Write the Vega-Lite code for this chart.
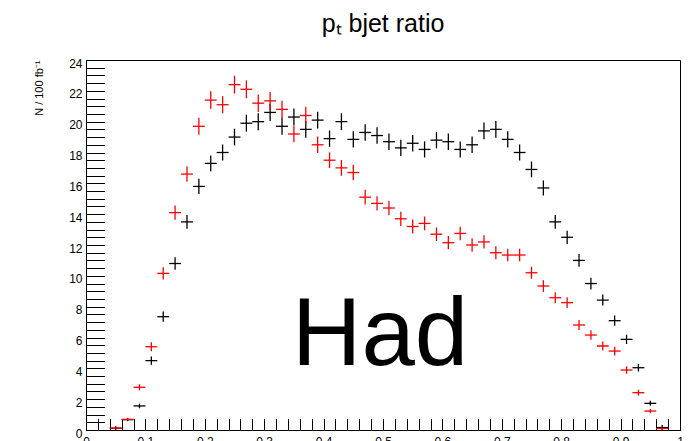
{
  "$schema": "https://vega.github.io/schema/vega-lite/v6.json",
  "width": 594,
  "height": 370,
  "autosize": "none",
  "padding": {"left": 86, "top": 60, "right": 15, "bottom": 11},
  "background": "white",
  "config": {
    "view": {"stroke": "#000", "strokeWidth": 1},
    "font": "Liberation Sans"
  },
  "title": {
    "text": "pₜ bjet ratio",
    "fontSize": 25,
    "fontWeight": "normal",
    "font": "Liberation Sans",
    "color": "#000",
    "anchor": "middle",
    "offset": 20
  },
  "datasets": {
    "hist": [
      {"x": 0.05, "n": 0.12, "err": 0.12, "s": "k"},
      {"x": 0.07, "n": 0.67, "err": 0.10, "s": "k"},
      {"x": 0.09, "n": 1.56, "err": 0.15, "s": "k"},
      {"x": 0.11, "n": 4.5, "err": 0.26, "s": "k"},
      {"x": 0.13, "n": 7.35, "err": 0.33, "s": "k"},
      {"x": 0.15, "n": 10.8, "err": 0.40, "s": "k"},
      {"x": 0.17, "n": 13.5, "err": 0.45, "s": "k"},
      {"x": 0.19, "n": 15.8, "err": 0.49, "s": "k"},
      {"x": 0.21, "n": 17.3, "err": 0.51, "s": "k"},
      {"x": 0.23, "n": 18.0, "err": 0.52, "s": "k"},
      {"x": 0.25, "n": 19.0, "err": 0.54, "s": "k"},
      {"x": 0.27, "n": 19.9, "err": 0.55, "s": "k"},
      {"x": 0.29, "n": 20.0, "err": 0.55, "s": "k"},
      {"x": 0.31, "n": 20.6, "err": 0.56, "s": "k"},
      {"x": 0.33, "n": 19.7, "err": 0.55, "s": "k"},
      {"x": 0.35, "n": 20.3, "err": 0.55, "s": "k"},
      {"x": 0.37, "n": 19.5, "err": 0.54, "s": "k"},
      {"x": 0.39, "n": 20.1, "err": 0.55, "s": "k"},
      {"x": 0.41, "n": 18.9, "err": 0.53, "s": "k"},
      {"x": 0.43, "n": 20.0, "err": 0.55, "s": "k"},
      {"x": 0.45, "n": 18.85, "err": 0.53, "s": "k"},
      {"x": 0.47, "n": 19.3, "err": 0.54, "s": "k"},
      {"x": 0.49, "n": 19.1, "err": 0.54, "s": "k"},
      {"x": 0.51, "n": 18.7, "err": 0.53, "s": "k"},
      {"x": 0.53, "n": 18.3, "err": 0.53, "s": "k"},
      {"x": 0.55, "n": 18.6, "err": 0.53, "s": "k"},
      {"x": 0.57, "n": 18.2, "err": 0.52, "s": "k"},
      {"x": 0.59, "n": 18.8, "err": 0.53, "s": "k"},
      {"x": 0.61, "n": 18.7, "err": 0.53, "s": "k"},
      {"x": 0.63, "n": 18.2, "err": 0.52, "s": "k"},
      {"x": 0.65, "n": 18.5, "err": 0.53, "s": "k"},
      {"x": 0.67, "n": 19.4, "err": 0.54, "s": "k"},
      {"x": 0.69, "n": 19.5, "err": 0.54, "s": "k"},
      {"x": 0.71, "n": 18.85, "err": 0.53, "s": "k"},
      {"x": 0.73, "n": 18.0, "err": 0.52, "s": "k"},
      {"x": 0.75, "n": 16.9, "err": 0.51, "s": "k"},
      {"x": 0.77, "n": 15.7, "err": 0.49, "s": "k"},
      {"x": 0.79, "n": 13.5, "err": 0.45, "s": "k"},
      {"x": 0.81, "n": 12.5, "err": 0.43, "s": "k"},
      {"x": 0.83, "n": 11.0, "err": 0.41, "s": "k"},
      {"x": 0.85, "n": 9.5, "err": 0.38, "s": "k"},
      {"x": 0.87, "n": 8.43, "err": 0.36, "s": "k"},
      {"x": 0.89, "n": 7.09, "err": 0.33, "s": "k"},
      {"x": 0.91, "n": 5.88, "err": 0.30, "s": "k"},
      {"x": 0.93, "n": 4.04, "err": 0.25, "s": "k"},
      {"x": 0.95, "n": 1.73, "err": 0.16, "s": "k"},
      {"x": 0.97, "n": 0.16, "err": 0.16, "s": "k"},
      {"x": 0.05, "n": 0.12, "err": 0.12, "s": "r"},
      {"x": 0.07, "n": 0.69, "err": 0.10, "s": "r"},
      {"x": 0.09, "n": 2.77, "err": 0.20, "s": "r"},
      {"x": 0.11, "n": 5.4, "err": 0.29, "s": "r"},
      {"x": 0.13, "n": 10.16, "err": 0.39, "s": "r"},
      {"x": 0.15, "n": 14.1, "err": 0.46, "s": "r"},
      {"x": 0.17, "n": 16.6, "err": 0.50, "s": "r"},
      {"x": 0.19, "n": 19.7, "err": 0.55, "s": "r"},
      {"x": 0.21, "n": 21.4, "err": 0.57, "s": "r"},
      {"x": 0.23, "n": 21.1, "err": 0.56, "s": "r"},
      {"x": 0.25, "n": 22.4, "err": 0.58, "s": "r"},
      {"x": 0.27, "n": 22.1, "err": 0.58, "s": "r"},
      {"x": 0.29, "n": 21.2, "err": 0.57, "s": "r"},
      {"x": 0.31, "n": 21.35, "err": 0.57, "s": "r"},
      {"x": 0.33, "n": 20.8, "err": 0.56, "s": "r"},
      {"x": 0.35, "n": 19.2, "err": 0.54, "s": "r"},
      {"x": 0.37, "n": 20.4, "err": 0.56, "s": "r"},
      {"x": 0.39, "n": 18.5, "err": 0.53, "s": "r"},
      {"x": 0.41, "n": 17.5, "err": 0.51, "s": "r"},
      {"x": 0.43, "n": 17.0, "err": 0.51, "s": "r"},
      {"x": 0.45, "n": 16.7, "err": 0.50, "s": "r"},
      {"x": 0.47, "n": 15.1, "err": 0.48, "s": "r"},
      {"x": 0.49, "n": 14.7, "err": 0.47, "s": "r"},
      {"x": 0.51, "n": 14.4, "err": 0.47, "s": "r"},
      {"x": 0.53, "n": 13.7, "err": 0.46, "s": "r"},
      {"x": 0.55, "n": 13.2, "err": 0.45, "s": "r"},
      {"x": 0.57, "n": 13.4, "err": 0.45, "s": "r"},
      {"x": 0.59, "n": 12.7, "err": 0.44, "s": "r"},
      {"x": 0.61, "n": 12.15, "err": 0.43, "s": "r"},
      {"x": 0.63, "n": 12.75, "err": 0.44, "s": "r"},
      {"x": 0.65, "n": 12.0, "err": 0.43, "s": "r"},
      {"x": 0.67, "n": 12.2, "err": 0.43, "s": "r"},
      {"x": 0.69, "n": 11.5, "err": 0.42, "s": "r"},
      {"x": 0.71, "n": 11.35, "err": 0.41, "s": "r"},
      {"x": 0.73, "n": 11.35, "err": 0.41, "s": "r"},
      {"x": 0.75, "n": 10.2, "err": 0.39, "s": "r"},
      {"x": 0.77, "n": 9.34, "err": 0.38, "s": "r"},
      {"x": 0.79, "n": 8.58, "err": 0.36, "s": "r"},
      {"x": 0.81, "n": 8.26, "err": 0.35, "s": "r"},
      {"x": 0.83, "n": 6.81, "err": 0.32, "s": "r"},
      {"x": 0.85, "n": 6.16, "err": 0.31, "s": "r"},
      {"x": 0.87, "n": 5.45, "err": 0.29, "s": "r"},
      {"x": 0.89, "n": 5.12, "err": 0.28, "s": "r"},
      {"x": 0.91, "n": 3.89, "err": 0.24, "s": "r"},
      {"x": 0.93, "n": 2.42, "err": 0.19, "s": "r"},
      {"x": 0.95, "n": 1.23, "err": 0.14, "s": "r"},
      {"x": 0.97, "n": 0.1, "err": 0.1, "s": "r"}
    ],
    "note": [
      {"x": 0.347, "n": 4.22, "label": "Had"}
    ]
  },
  "encoding": {
    "x": {
      "field": "x",
      "type": "quantitative",
      "scale": {"domain": [0, 1], "nice": false, "zero": false},
      "axis": {
        "title": null,
        "grid": false,
        "domainColor": "#000",
        "tickColor": "#000",
        "tickWidth": 1,
        "tickSize": -11.5,
        "labelPadding": 17.5,
        "labelFontSize": 12,
        "labelColor": "#000",
        "labelFont": "Liberation Sans",
        "labelFlush": false,
        "labelOverlap": false,
        "labelBound": false,
        "values": [0, 0.02, 0.04, 0.06, 0.08, 0.1, 0.12, 0.14, 0.16, 0.18, 0.2, 0.22, 0.24, 0.26, 0.28, 0.3, 0.32, 0.34, 0.36, 0.38, 0.4, 0.42, 0.44, 0.46, 0.48, 0.5, 0.52, 0.54, 0.56, 0.58, 0.6, 0.62, 0.64, 0.66, 0.68, 0.7, 0.72, 0.74, 0.76, 0.78, 0.8, 0.82, 0.84, 0.86, 0.88, 0.9, 0.92, 0.94, 0.96, 0.98, 1],
        "labelExpr": "abs(datum.value*10 - round(datum.value*10)) < 0.000001 ? format(datum.value, '~g') : ''",
        "encode": {
          "ticks": {
            "update": {
              "y2": {"signal": "abs(datum.value*10 - round(datum.value*10)) < 0.000001 ? -11.5 : -5.5"}
            }
          }
        }
      }
    },
    "y": {
      "field": "n",
      "type": "quantitative",
      "scale": {"domain": [0, 24], "nice": false},
      "axis": {
        "title": "N / 100 fb⁻¹",
        "titleFont": "Liberation Sans",
        "titleFontSize": 11,
        "titleFontWeight": "normal",
        "titleColor": "#000",
        "titleAnchor": "end",
        "titlePadding": 24,
        "grid": false,
        "domainColor": "#000",
        "tickColor": "#000",
        "tickWidth": 1,
        "tickSize": -18.5,
        "labelPadding": 22.5,
        "labelOffset": 3,
        "labelFontSize": 12,
        "labelColor": "#000",
        "labelFont": "Liberation Sans",
        "labelFlush": false,
        "labelOverlap": false,
        "labelBound": false,
        "values": [0, 0.5, 1, 1.5, 2, 2.5, 3, 3.5, 4, 4.5, 5, 5.5, 6, 6.5, 7, 7.5, 8, 8.5, 9, 9.5, 10, 10.5, 11, 11.5, 12, 12.5, 13, 13.5, 14, 14.5, 15, 15.5, 16, 16.5, 17, 17.5, 18, 18.5, 19, 19.5, 20, 20.5, 21, 21.5, 22, 22.5, 23, 23.5, 24],
        "labelExpr": "datum.value % 2 == 0 ? format(datum.value, 'd') : ''",
        "encode": {
          "ticks": {
            "update": {
              "x2": {"signal": "datum.value % 2 == 0 ? 18.5 : 9.5"}
            }
          }
        }
      }
    },
    "color": {
      "field": "s",
      "type": "nominal",
      "scale": {"domain": ["k", "r"], "range": ["#000000", "#ff0000"]},
      "legend": null
    }
  },
  "layer": [
    {
      "data": {"name": "hist"},
      "mark": {"type": "errorbar", "rule": {"strokeWidth": 1.3}},
      "encoding": {
        "yError": {"field": "err"}
      }
    },
    {
      "data": {"name": "hist"},
      "mark": {"type": "tick", "orient": "horizontal", "size": 11.88, "thickness": 1.3, "opacity": 1},
      "encoding": {}
    },
    {
      "data": {"name": "note"},
      "mark": {"type": "text", "font": "Liberation Sans", "fontSize": 96, "align": "left", "baseline": "alphabetic", "color": "#000"},
      "encoding": {
        "text": {"field": "label"},
        "color": {"value": "#000"}
      }
    }
  ]
}
